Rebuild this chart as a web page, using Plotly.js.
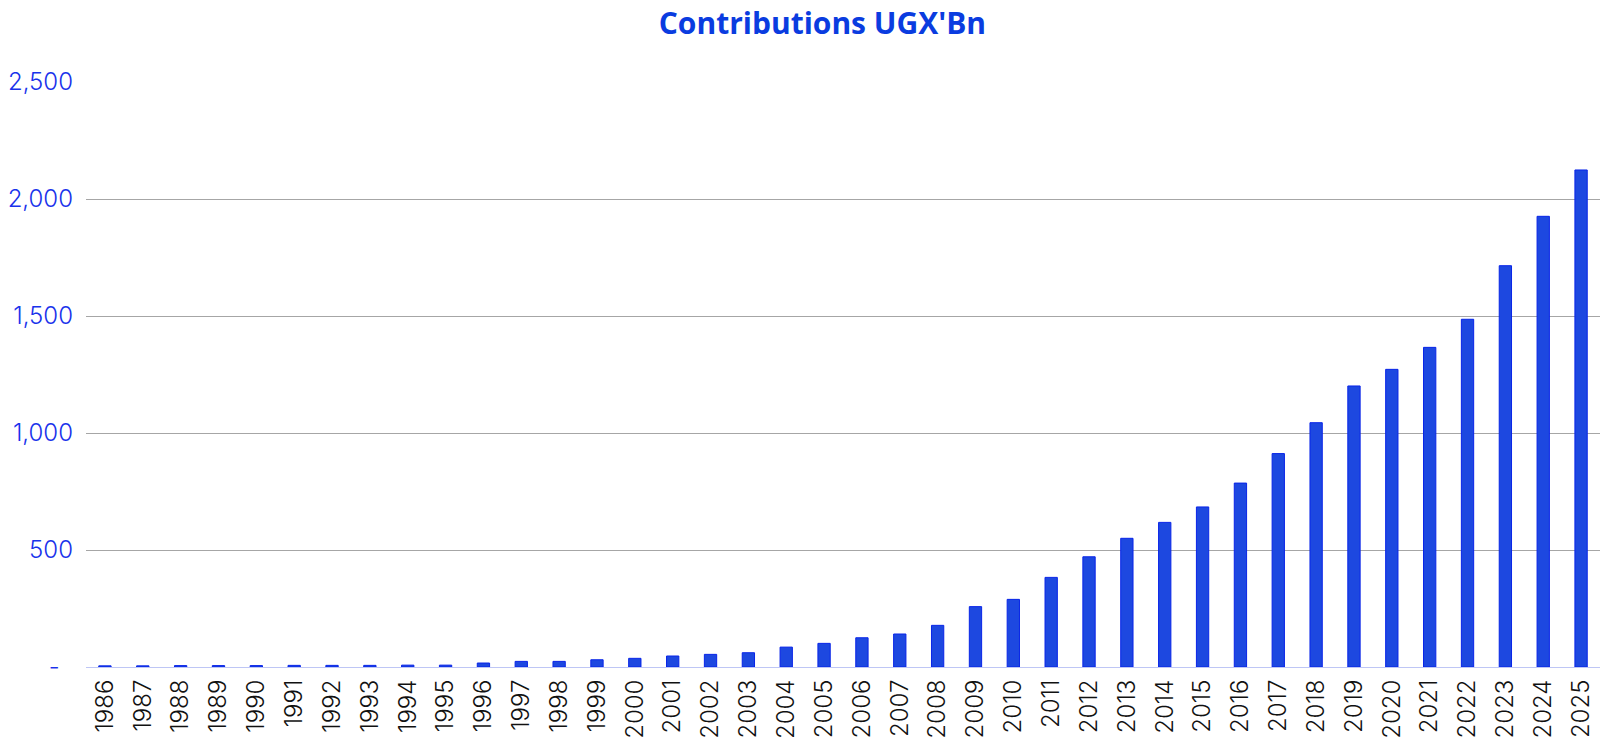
<!DOCTYPE html>
<html>
<head>
<meta charset="utf-8">
<script src="https://cdn.plot.ly/plotly-3.0.1.min.js"></script>
<style>
  html, body { margin: 0; padding: 0; background: #fff; }
  #graph { width: 1600px; height: 742px; }
</style>
</head>
<body>
<div id="graph"></div>
<script>
// years on the x axis
const years = [
  '1986', '1987', '1988', '1989', '1990', '1991', '1992', '1993', '1994', '1995',
  '1996', '1997', '1998', '1999', '2000', '2001', '2002', '2003', '2004', '2005',
  '2006', '2007', '2008', '2009', '2010', '2011', '2012', '2013', '2014', '2015',
  '2016', '2017', '2018', '2019', '2020', '2021', '2022', '2023', '2024', '2025'
];

// contributions, UGX billions
const contributions = [
  5, 5, 6, 6, 6, 7, 7, 7, 8, 8,
  17, 24, 24, 31, 37, 47, 54, 61, 85, 101,
  125, 141, 178, 258, 289, 383, 471, 550, 618, 684,
  786, 912, 1044, 1201, 1272, 1366, 1486, 1715, 1926, 2124
];

// y axis ticks
const yTickVals = [0, 500, 1000, 1500, 2000, 2500];
const yTickText = ['-\u00a0\u00a0', '500', '1,000', '1,500', '2,000', '2,500'];

document.addEventListener('DOMContentLoaded', function(event)
{
  displayPlot("graph");
});

function displayPlot(divPlot)
{
  let bars = {
    type: 'bar',
    x: years,
    y: contributions,
    marker: {
      color: 'rgb(29,72,224)',
      line: { color: 'rgb(8,36,232)', width: 1 }
    },
    hoverinfo: 'x+y'
  };

  let layout = {
    width: 1600,
    height: 742,
    paper_bgcolor: '#fff',
    plot_bgcolor: '#fff',
    margin: { l: 86, r: 0, t: 82, b: 75 },
    bargap: 0.675,
    showlegend: false,
    font: { family: 'Inter, "Open Sans", sans-serif' },
    title: {
      text: "Contributions UGX'Bn",
      font: { family: '"Open Sans", sans-serif', size: 30, weight: 700, color: 'rgb(10,60,224)' },
      x: 0.514,
      xref: 'container',
      xanchor: 'center',
      y: 0.982,
      yref: 'container',
      yanchor: 'top'
    },
    xaxis: {
      type: 'category',
      tickangle: -90,
      tickfont: { family: 'Inter, sans-serif', size: 24, weight: 300, color: '#111' },
      showgrid: false,
      showline: true,
      linecolor: 'rgb(190,198,245)',
      linewidth: 1,
      ticks: '',
      automargin: false,
      ticklabelstandoff: 2
    },
    yaxis: {
      range: [0, 2500],
      autorange: false,
      tickvals: yTickVals,
      ticktext: yTickText,
      tickfont: { family: 'Inter, sans-serif', size: 24, weight: 300, color: 'rgb(25,50,235)' },
      showgrid: true,
      gridcolor: '#a6a6a6',
      gridwidth: 1,
      zeroline: false,
      showline: false,
      ticks: '',
      automargin: false,
      ticklabelstandoff: 12
    }
  };

  Plotly.newPlot(divPlot, [bars], layout, { displayModeBar: false, staticPlot: true });
}
</script>
</body>
</html>
